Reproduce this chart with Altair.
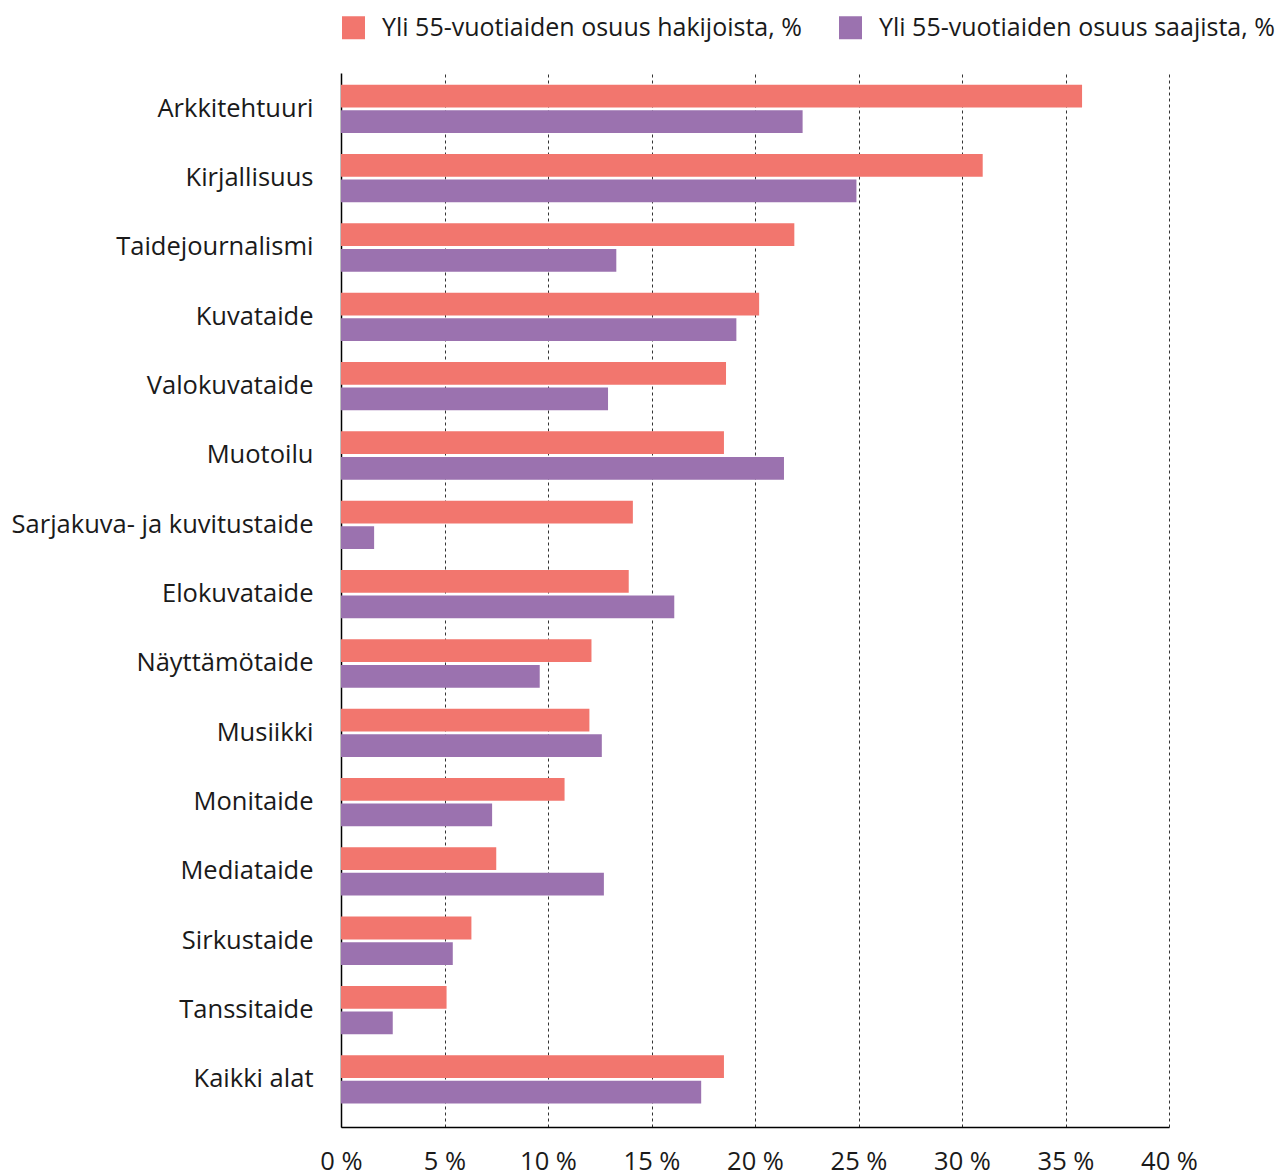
import altair as alt
import pandas as pd

categories = ["Arkkitehtuuri", "Kirjallisuus", "Taidejournalismi", "Kuvataide",
              "Valokuvataide", "Muotoilu", "Sarjakuva- ja kuvitustaide", "Elokuvataide",
              "Näyttämötaide", "Musiikki", "Monitaide", "Mediataide", "Sirkustaide",
              "Tanssitaide", "Kaikki alat"]
series = ["Yli 55-vuotiaiden osuus hakijoista, %", "Yli 55-vuotiaiden osuus saajista, %"]
hakijat = [35.8, 31.0, 21.9, 20.2, 18.6, 18.5, 14.1, 13.9, 12.1, 12.0, 10.8, 7.5, 6.3, 5.1, 18.5]
saajat = [22.3, 24.9, 13.3, 19.1, 12.9, 21.4, 1.6, 16.1, 9.6, 12.6, 7.3, 12.7, 5.4, 2.5, 17.4]
ticks = [0, 5, 10, 15, 20, 25, 30, 35, 40]
colors = ["#F2766E", "#9B72AF"]

rows = []
for c, h, s in zip(categories, hakijat, saajat):
    rows.append({"ala": c, "sarja": series[0], "arvo": h})
    rows.append({"ala": c, "sarja": series[1], "arvo": s})
df = pd.DataFrame(rows)

FONT = "Open Sans"
FS = 25.5

bars = alt.Chart(df).mark_bar().encode(
    y=alt.Y("ala:N", sort=categories, title=None,
            scale=alt.Scale(paddingInner=0.303, paddingOuter=0.253, align=0.333),
            axis=alt.Axis(labelFontSize=FS, labelFont=FONT, labelColor="#1a1a1a",
                          labelPadding=28, labelLimit=0, ticks=False,
                          domainColor="#000000", domainWidth=1.5, grid=False)),
    yOffset=alt.YOffset("sarja:N", sort=series, scale=alt.Scale(paddingInner=0.11)),
    x=alt.X("arvo:Q", title=None,
            scale=alt.Scale(domain=[0, 40], nice=False),
            axis=alt.Axis(values=ticks, labelExpr="datum.value + ' %'",
                          labelFontSize=FS, labelFont=FONT, labelColor="#1a1a1a",
                          labelPadding=22, labelFlush=False, labelLimit=0,
                          labelOverlap=False, ticks=False,
                          domainColor="#000000", domainWidth=1.5,
                          grid=True, gridColor="#333333",
                          gridDash=[3, 3], gridWidth=1)),
    color=alt.Color("sarja:N", sort=series,
                    scale=alt.Scale(domain=series, range=colors),
                    legend=alt.Legend(title=None, orient="none", legendX=0, legendY=-58,
                                      direction="horizontal", symbolType="square",
                                      symbolSize=529, symbolStrokeWidth=0,
                                      labelFontSize=25, labelFont=FONT, labelLimit=0,
                                      labelColor="#1a1a1a", labelOffset=16,
                                      columnPadding=36)),
)

chart = bars.properties(
    width=828, height=1054,
    autosize=alt.AutoSizeParams(type="none"),
    padding={"left": 333, "top": 65, "right": 109, "bottom": 50},
).configure_view(stroke=None)

chart.save("out.html", embed_options={"renderer": "svg", "actions": False})
